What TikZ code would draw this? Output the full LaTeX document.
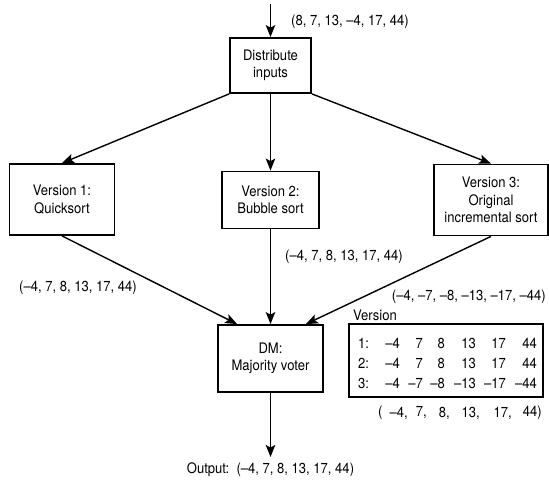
\documentclass[tikz,border=0pt]{standalone}
\usepackage{fontspec}
\setmainfont[FakeStretch=0.9]{TeX Gyre Heros}
\usetikzlibrary{arrows.meta}

\tikzset{
  box/.style={draw,line width=1.8pt,align=center,inner sep=2pt},
  flow/.style={line width=1.4pt,-{Stealth[length=12pt,width=9.5pt,inset=2.5pt]}},
  vals/.style={inner sep=1pt},
}

\begin{document}
\begin{tikzpicture}[x=1pt,y=-1pt,font=\fontsize{14.5}{17.5}\selectfont]
    \useasboundingbox (0,0) rectangle (549,491);
    % processing boxes
    \node[box,minimum width=81pt,minimum height=55pt] (dist) at (270.5,65.5) {Distribute\\inputs};
    \node[box,minimum width=105pt,minimum height=71pt] (ver1) at (62,199.5) {Version 1:\\Quicksort};
    \node[box,minimum width=97pt,minimum height=57pt] (ver2) at (270.5,200) {Version 2:\\Bubble sort};
    \node[box,minimum width=114pt,minimum height=71pt] (ver3) at (491,200) {Version 3:\\Original\\incremental sort};
    \node[box,minimum width=105pt,minimum height=67pt] (dm) at (270.5,358.5) {DM:\\Majority voter};
    \coordinate (in) at (270.5,4);
    \coordinate (out) at (270.5,457);
    % connectors
    \draw[flow] (in) -- (dist.north);
    \draw[flow] (dist.south west) -- (ver1.north);
    \draw[flow] (dist.south) -- (ver2.north);
    \draw[flow] (dist.south east) -- (ver3.north);
    \draw[flow] (ver1.south) -- ([xshift=20pt]dm.north west);
    \draw[flow] (ver2.south) -- (dm.north);
    \draw[flow] (ver3.south) -- ([xshift=-18pt]dm.north east);
    \draw[flow] (dm.south) -- (out);
    % data labels
    \node[vals,anchor=west] (inlbl) at (290,22) {(8, 7, 13, –4, 17, 44)};
    \node[vals] (lbl1) at (78,288) {(–4, 7, 8, 13, 17, 44)};
    \node[vals,anchor=west] (lbl2) at (284,257) {(–4, 7, 8, 13, 17, 44)};
    \node[vals,anchor=east] (lbl3) at (547,297) {(–4, –7, –8, –13, –17, –44)};
    \node[vals] (outlbl) at (270.5,470) {Output:\ \ (–4, 7, 8, 13, 17, 44)};
    % voting table
    \node[vals,anchor=west] (vhead) at (352,315) {Version};
    \draw[line width=1.6pt] (349,324) rectangle (543,397);
    \foreach \r/\y/\a/\b/\c/\d/\e/\f in {1/343/–4/7/8/13/17/44,
                                          2/363/–4/7/8/13/17/44,
                                          3/383/–4/–7/–8/–13/–17/–44}{
        \node[vals,anchor=west] at (357,\y) {\r:};
        \node[vals,anchor=east] at (401,\y) {\a};
        \node[vals,anchor=east] at (424,\y) {\b};
        \node[vals,anchor=east] at (446,\y) {\c};
        \node[vals,anchor=east] at (477,\y) {\d};
        \node[vals,anchor=east] at (507,\y) {\e};
        \node[vals,anchor=east] at (538,\y) {\f};
    }
    \node[vals,anchor=west] at (377,413) {(};
    \foreach \v/\x in {{–4,}/409,{7,}/428,{8,}/451,{13,}/481,{17,}/513,{44)}/543}
        \node[vals,anchor=east] at (\x,413) {\v};
\end{tikzpicture}
\end{document}
